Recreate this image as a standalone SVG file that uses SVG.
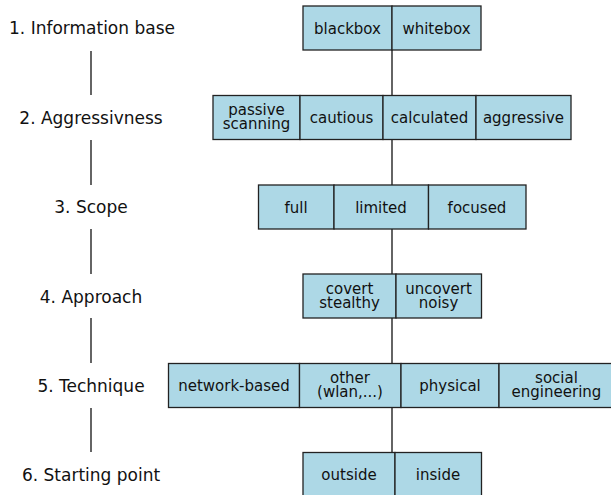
<svg xmlns="http://www.w3.org/2000/svg" width="611" height="495" viewBox="0 0 611 495">
<style>
text{font-family:"DejaVu Sans",sans-serif;fill:#111}
.lbl{font-size:17px;text-anchor:middle}
.t{font-size:15px;text-anchor:middle}
.box{fill:#add8e6;stroke:#222;stroke-width:1.3}
.ln{stroke:#111;stroke-width:1.3;fill:none}
</style>
<rect width="611" height="495" fill="#fff"/>
<g id="labels">
<text class="lbl" x="92" y="34">1. Information base</text>
<text class="lbl" x="91" y="124">2. Aggressivness</text>
<text class="lbl" x="91" y="213">3. Scope</text>
<text class="lbl" x="91" y="303">4. Approach</text>
<text class="lbl" x="91" y="392">5. Technique</text>
<text class="lbl" x="91" y="481">6. Starting point</text>
</g>
<g id="connectors">
<line class="ln" x1="91" y1="51" x2="91" y2="95"/>
<line class="ln" x1="91" y1="140" x2="91" y2="185"/>
<line class="ln" x1="91" y1="229" x2="91" y2="274"/>
<line class="ln" x1="91" y1="318" x2="91" y2="363"/>
<line class="ln" x1="91" y1="408" x2="91" y2="452"/>
<line class="ln" x1="392" y1="50" x2="392" y2="95"/>
<line class="ln" x1="392" y1="140" x2="392" y2="185"/>
<line class="ln" x1="392" y1="229" x2="392" y2="274"/>
<line class="ln" x1="392" y1="318" x2="392" y2="363"/>
<line class="ln" x1="392" y1="408" x2="392" y2="452"/>
</g>
<g id="row1">
<rect class="box" x="303" y="6" width="89" height="44"/>
<rect class="box" x="392" y="6" width="89" height="44"/>
<text class="t" x="347.5" y="33.5">blackbox</text>
<text class="t" x="436.5" y="33.5">whitebox</text>
</g>
<g id="row2">
<rect class="box" x="213" y="95.5" width="87" height="44"/>
<rect class="box" x="300" y="95.5" width="83" height="44"/>
<rect class="box" x="383" y="95.5" width="93" height="44"/>
<rect class="box" x="476" y="95.5" width="95" height="44"/>
<text class="t" x="256.5" y="115">passive</text>
<text class="t" x="256.5" y="129">scanning</text>
<text class="t" x="341.5" y="123">cautious</text>
<text class="t" x="429.5" y="123">calculated</text>
<text class="t" x="523.5" y="123">aggressive</text>
</g>
<g id="row3">
<rect class="box" x="258.5" y="185" width="75.5" height="44"/>
<rect class="box" x="334" y="185" width="94.5" height="44"/>
<rect class="box" x="428.5" y="185" width="97.5" height="44"/>
<text class="t" x="296" y="212.5">full</text>
<text class="t" x="381" y="212.5">limited</text>
<text class="t" x="477" y="212.5">focused</text>
</g>
<g id="row4">
<rect class="box" x="303" y="274" width="93" height="44"/>
<rect class="box" x="396" y="274" width="85.5" height="44"/>
<text class="t" x="349.5" y="293.5">covert</text>
<text class="t" x="349.5" y="307.5">stealthy</text>
<text class="t" x="438.5" y="293.5">uncovert</text>
<text class="t" x="438.5" y="307.5">noisy</text>
</g>
<g id="row5">
<rect class="box" x="168.5" y="363.5" width="131" height="44"/>
<rect class="box" x="299.5" y="363.5" width="101.5" height="44"/>
<rect class="box" x="401" y="363.5" width="98" height="44"/>
<rect class="box" x="499" y="363.5" width="113" height="44"/>
<text class="t" x="234" y="391">network-based</text>
<text class="t" x="350" y="383">other</text>
<text class="t" x="350" y="397">(wlan,...)</text>
<text class="t" x="450" y="391">physical</text>
<text class="t" x="556.5" y="383">social</text>
<text class="t" x="556.5" y="397">engineering</text>
</g>
<g id="row6">
<rect class="box" x="303" y="452.5" width="92" height="44"/>
<rect class="box" x="395" y="452.5" width="86.5" height="44"/>
<text class="t" x="349" y="479.5">outside</text>
<text class="t" x="438" y="479.5">inside</text>
</g>
</svg>
